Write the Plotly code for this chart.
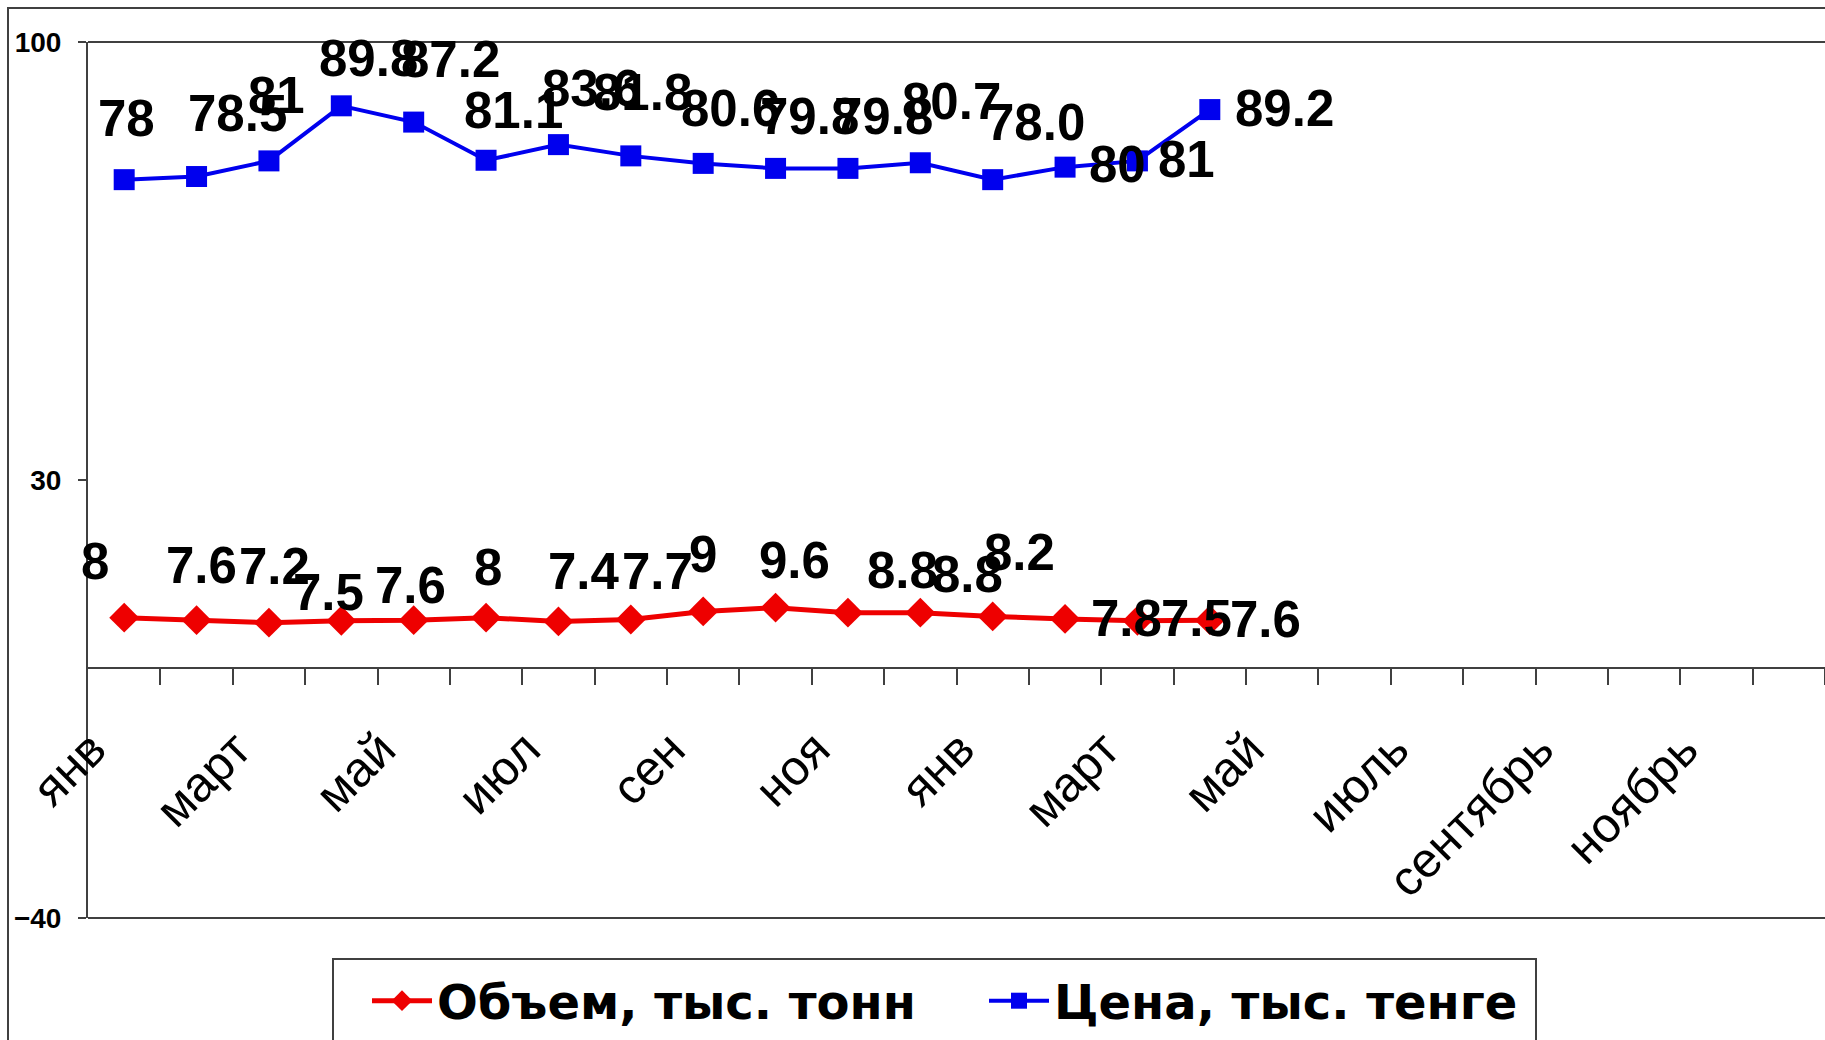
import plotly.graph_objects as go

# ---- data ----
month_ticks = ["янв", "март", "май", "июл", "сен", "ноя",
               "янв", "март", "май", "июль", "сентябрь", "ноябрь"]
n_months = 24
volume = [8, 7.6, 7.2, 7.5, 7.6, 8, 7.4, 7.7, 9, 9.6, 8.8, 8.8, 8.2, 7.8, 7.5, 7.6]
volume_labels = ["8", "7.6", "7.2", "7.5", "7.6", "8", "7.4", "7.7", "9", "9.6",
                 "8.8", "8.8", "8.2", "7.8", "7.5", "7.6"]
price = [78, 78.5, 81, 89.8, 87.2, 81.1, 83.6, 81.8, 80.6, 79.8, 79.8, 80.7, 78.0, 80, 81, 89.2]
price_labels = ["78", "78.5", "81", "89.8", "87.2", "81.1", "83.6", "81.8", "80.6", "79.8",
                "79.8", "80.7", "78.0", "80", "81", "89.2"]
y_ticks = [-40, 30, 100]
series_names = ["Объем, тыс. тонн", "Цена, тыс. тенге"]

# ---- label offsets (pixels, styling only) ----
vol_dx = [-29, 5, 6, -13, -3, 2, 26, 27, 0, 19, 55, 47, 27, 61, 59, 56]
vol_dy = [-52, -51, -52, -24, -31, -46, -46, -44, -53, -43, -38, -34, -60, 4, 2, 3]
pr_dx = [2, 41, 8, 27, 37, 27, 33, 12, 27, 34, 36, 31, 43, 52, 49, 75]
pr_dy = [-57, -59, -61, -43, -59, -46, -52, -59, -51, -48, -48, -57, -53, 1, 3, 3]

W, H = 1825, 1040
L, T, B = 88, 42, 122
plot_w = W - L
plot_h = H - T - B

AX = "#404040"
RED = "#ee0000"
BLUE = "#0000ee"

xs_v = list(range(len(volume)))
xs_p = list(range(len(price)))

fig = go.Figure()
fig.add_trace(go.Scatter(
    x=xs_v, y=volume, mode="lines+markers", name="<b>%s</b>" % series_names[0],
    line=dict(color=RED, width=5),
    marker=dict(symbol="diamond", size=23, color=RED),
))
fig.add_trace(go.Scatter(
    x=xs_p, y=price, mode="lines+markers", name="<b>%s</b>" % series_names[1],
    line=dict(color=BLUE, width=4),
    marker=dict(symbol="square", size=21, color=BLUE),
))

label_font = dict(family="Liberation Sans, Arial, sans-serif", size=51, color="black")
annos = []
for i, (v, t) in enumerate(zip(volume, volume_labels)):
    annos.append(dict(x=i, y=v, text="<b>%s</b>" % t, showarrow=False,
                      xshift=vol_dx[i], yshift=-vol_dy[i] + 4, font=label_font,
                      xanchor="center", yanchor="middle"))
for i, (v, t) in enumerate(zip(price, price_labels)):
    annos.append(dict(x=i, y=v, text="<b>%s</b>" % t, showarrow=False,
                      xshift=pr_dx[i], yshift=-pr_dy[i] + 4, font=label_font,
                      xanchor="center", yanchor="middle"))

# label anchors sit slightly left of the category centres, as in the original
tick_pos = [k - 0.45 for k in range(0, n_months, 2)]
boundaries = [k + 0.5 for k in range(n_months)]

y0_frac = (0 - y_ticks[0]) / (y_ticks[-1] - y_ticks[0])

fig.update_layout(
    width=W, height=H,
    margin=dict(l=L, r=0, t=T, b=B, pad=0),
    paper_bgcolor="white", plot_bgcolor="white",
    showlegend=True,
    legend=dict(
        orientation="h", x=(367 - L) / plot_w, xanchor="left",
        y=-(1001 - (T + plot_h)) / plot_h, yanchor="middle",
        font=dict(family="DejaVu Sans, Liberation Sans, sans-serif", size=48, color="black"),
        bgcolor="rgba(0,0,0,0)", borderwidth=0, entrywidth=542, itemwidth=60,
    ),
    xaxis=dict(
        range=[-0.5, n_months - 0.5], anchor="free", position=y0_frac,
        showgrid=False, zeroline=False,
        showline=True, linecolor=AX, linewidth=2,
        tickmode="array", tickvals=tick_pos, ticktext=month_ticks,
        ticks="", tickangle=-45,
        tickfont=dict(family="Liberation Sans, Arial, sans-serif", size=49, color="black"),
        ticklabelstandoff=32,
        minor=dict(tickmode="array", tickvals=boundaries, ticks="outside",
                   ticklen=16, tickwidth=2, tickcolor=AX, showgrid=False),
    ),
    yaxis=dict(
        range=[y_ticks[0], y_ticks[-1]], showgrid=False, zeroline=False,
        showline=True, linecolor=AX, linewidth=2,
        tickmode="array", tickvals=y_ticks, ticks="outside", ticklen=8,
        tickwidth=2, tickcolor=AX,
        tickfont=dict(family="Liberation Sans, Arial, sans-serif", size=28,
                      color="black", weight="bold"),
        ticklabelstandoff=11,
    ),
    annotations=annos,
    shapes=[
        # plot top / bottom borders
        dict(type="line", xref="paper", yref="paper", x0=0, x1=1, y0=1, y1=1,
             line=dict(color=AX, width=2)),
        dict(type="line", xref="paper", yref="paper", x0=0, x1=1, y0=0, y1=0,
             line=dict(color=AX, width=2)),
        # outer chart frame
        dict(type="rect", xref="paper", yref="paper",
             x0=(8 - L) / plot_w, x1=1.2, y0=-0.5, y1=1 + (T - 8) / plot_h,
             line=dict(color=AX, width=2), fillcolor="rgba(0,0,0,0)", layer="below"),
        # legend box
        dict(type="rect", xref="paper", yref="paper",
             x0=(333 - L) / plot_w, x1=(1536 - L) / plot_w,
             y0=-0.5, y1=-(959 - (T + plot_h)) / plot_h,
             line=dict(color=AX, width=2), fillcolor="rgba(0,0,0,0)"),
    ],
)

fig.write_html("out.html", config={"displayModeBar": False},
               post_script="document.body.style.margin='0';")
